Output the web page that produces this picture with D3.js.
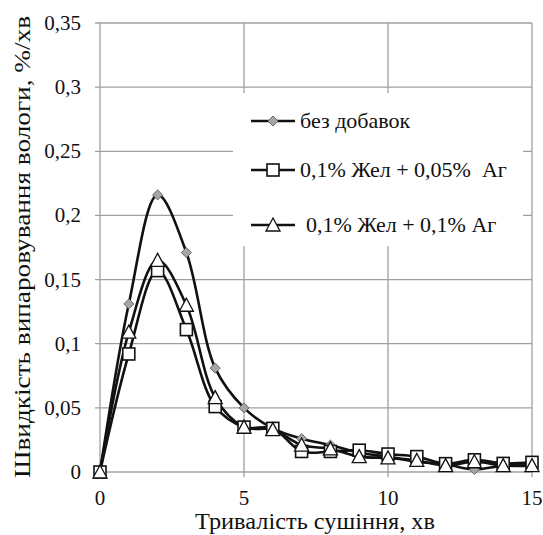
<!DOCTYPE html>
<html>
<head>
<meta charset="utf-8">
<script src="https://cdn.jsdelivr.net/npm/d3@7"></script>
<style>
  body { margin: 0; background: #fff; }
  text { font-family: "Liberation Serif", serif; }
</style>
</head>
<body>
<div id="chart"></div>
<script>
// data
const minutes = [0, 1, 2, 3, 4, 5, 6, 7, 8, 9, 10, 11, 12, 13, 14, 15]
const bezDobavok = [0, 0.131, 0.216, 0.171, 0.081, 0.050, 0.034, 0.026, 0.021, 0.015, 0.012, 0.008, 0.006, 0.002, 0.005, 0.005]
const zhel005 = [0, 0.092, 0.157, 0.111, 0.051, 0.035, 0.034, 0.016, 0.016, 0.017, 0.014, 0.012, 0.0065, 0.0095, 0.0067, 0.0075]
const zhel01 = [0, 0.109, 0.165, 0.130, 0.058, 0.035, 0.033, 0.021, 0.018, 0.012, 0.011, 0.009, 0.005, 0.008, 0.005, 0.005]
const seriesNames = ["без добавок", "0,1% Жел + 0,05%  Аг", "0,1% Жел + 0,1% Аг"]
const yTicks = [0, 0.05, 0.1, 0.15, 0.2, 0.25, 0.3, 0.35]
const xTicks = [0, 5, 10, 15]

const series = [
  { name: seriesNames[0], values: bezDobavok, marker: "diamond" },
  { name: seriesNames[1], values: zhel005, marker: "square" },
  { name: seriesNames[2], values: zhel01, marker: "triangle" },
]

const width = 543, height = 535
const margin = { top: 23, right: 11, bottom: 63, left: 100 }

const svg = d3.select("#chart").append("svg")
  .attr("width", width).attr("height", height)

const x = d3.scaleLinear().domain([0, 15]).range([margin.left, width - margin.right])
const y = d3.scaleLinear().domain([0, 0.35]).range([height - margin.bottom, margin.top])

const fmt = d => String(+d.toFixed(2)).replace(".", ",")

// helper so every label gets the Times-like face
function label(g) {
  return g.append("text")
    .style("font-family", "Liberation Serif")
    .attr("fill", "#111")
}

// grid
svg.append("g").selectAll("line").data(yTicks).enter().append("line")
  .attr("x1", x(0) - 5).attr("x2", x(15))
  .attr("y1", d => y(d)).attr("y2", d => y(d))
  .attr("stroke", "#a0a0a0").attr("stroke-width", 1.3)

svg.append("g").selectAll("line").data(xTicks).enter().append("line")
  .attr("x1", d => x(d)).attr("x2", d => x(d))
  .attr("y1", y(0.35)).attr("y2", y(0) + 5)
  .attr("stroke", "#a0a0a0").attr("stroke-width", 1.3)

// tick labels
yTicks.forEach(t => {
  label(svg).attr("x", 81).attr("y", y(t) + 7)
    .attr("text-anchor", "end").attr("font-size", 21)
    .text(fmt(t))
})
xTicks.forEach(t => {
  label(svg).attr("x", x(t)).attr("y", y(0) + 33)
    .attr("text-anchor", "middle").attr("font-size", 21)
    .text(t)
})

// axis titles
label(svg)
  .attr("x", 315).attr("y", 529)
  .attr("text-anchor", "middle").attr("font-size", 24)
  .attr("textLength", 240).attr("lengthAdjust", "spacingAndGlyphs")
  .text("Тривалість сушіння, хв")

label(svg)
  .attr("transform", "translate(30, 247) rotate(-90)")
  .attr("text-anchor", "middle").attr("font-size", 24)
  .attr("textLength", 462).attr("lengthAdjust", "spacingAndGlyphs")
  .text("Швидкість випаровування вологи, %/хв")

// legend box (white, hides grid)
const legend = svg.append("g")
legend.append("rect")
  .attr("x", 233).attr("y", 93).attr("width", 290).attr("height", 153)
  .attr("fill", "#fff")

// markers
function drawMarker(g, type, cx, cy) {
  if (type === "diamond") {
    g.append("path")
      .attr("d", d3.symbol(d3.symbolDiamond2, 64)())
      .attr("transform", `translate(${cx},${cy})`)
      .attr("fill", "#a6a6a6").attr("stroke", "#666").attr("stroke-width", 1)
  } else if (type === "square") {
    g.append("rect")
      .attr("x", cx - 6).attr("y", cy - 6).attr("width", 12).attr("height", 12)
      .attr("fill", "#fff").attr("stroke", "#111").attr("stroke-width", 1.6)
  } else {
    g.append("path")
      .attr("d", `M${cx},${cy - 7} L${cx + 7},${cy + 6} L${cx - 7},${cy + 6} Z`)
      .attr("fill", "#fff").attr("stroke", "#111").attr("stroke-width", 1.3)
  }
}

const line = d3.line()
  .x((d, i) => x(minutes[i]))
  .y(d => y(d))
  .curve(d3.curveCatmullRom.alpha(0.5))

series.forEach(s => {
  svg.append("path")
    .attr("d", line(s.values))
    .attr("fill", "none").attr("stroke", "#111").attr("stroke-width", 2.6)
})

series.forEach(s => {
  const g = svg.append("g")
  s.values.forEach((v, i) => drawMarker(g, s.marker, x(minutes[i]), y(v)))
})

// legend entries
const legendY = [121, 170, 225]
const legendTextX = [300, 300, 306]
series.forEach((s, i) => {
  legend.append("line")
    .attr("x1", 251).attr("x2", 295).attr("y1", legendY[i]).attr("y2", legendY[i])
    .attr("stroke", "#111").attr("stroke-width", 2.6)
  drawMarker(legend, s.marker, 273, legendY[i])
  label(legend)
    .attr("x", legendTextX[i]).attr("y", legendY[i] + 7)
    .attr("font-size", 22)
    .style("white-space", "pre")
    .text(s.name)
})
</script>
</body>
</html>
